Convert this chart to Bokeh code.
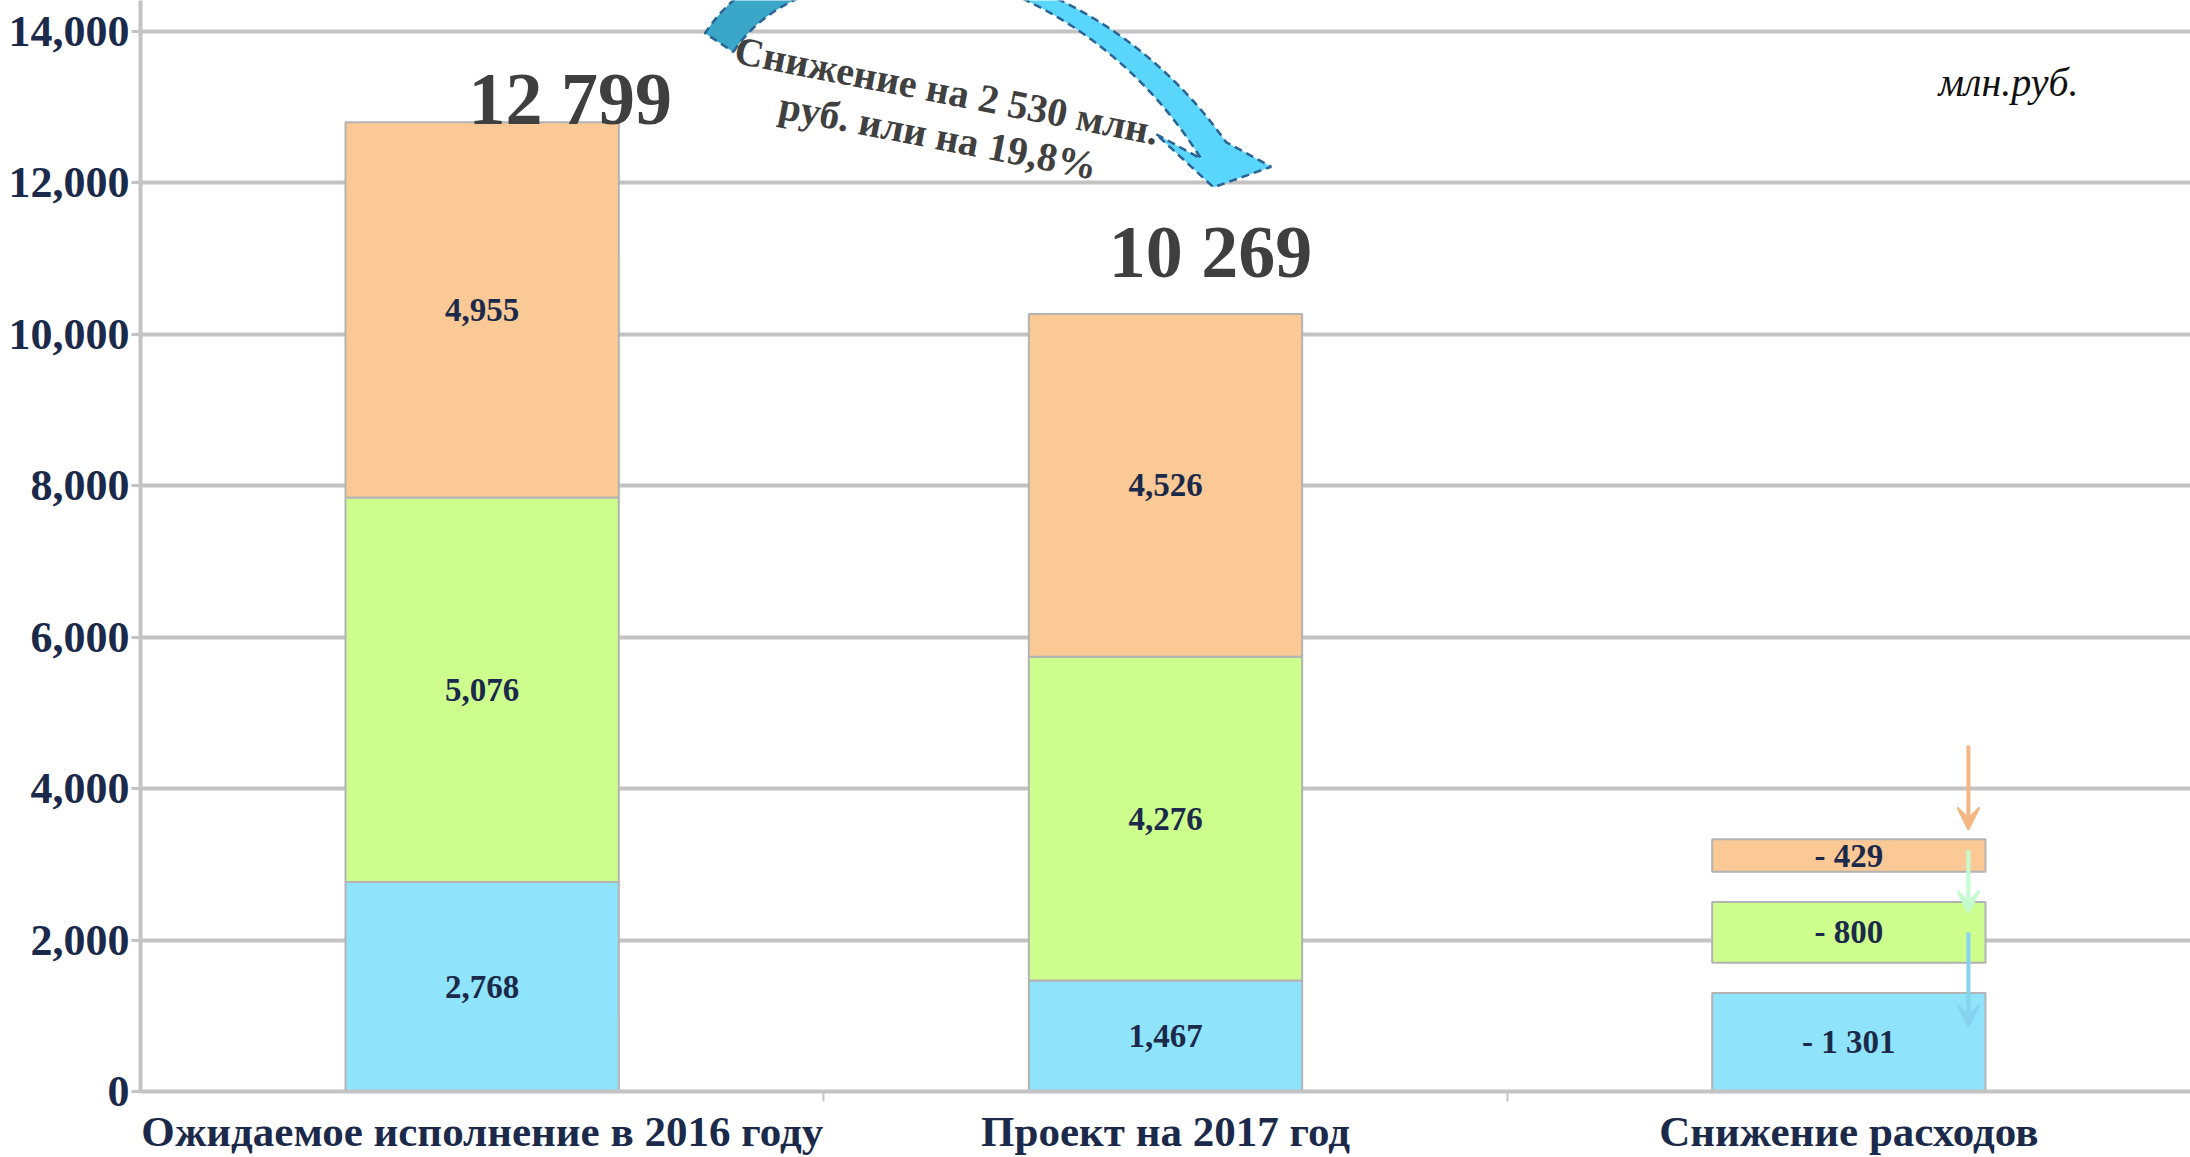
import numpy as np
from bokeh.plotting import figure
from bokeh.models import Range1d, FixedTicker, NumeralTickFormatter, Arrow, VeeHead, ColumnDataSource
from bokeh.embed import file_html
from bokeh.resources import INLINE
from bokeh.core.properties import value

# ---------------- data ----------------
categories = ["Ожидаемое исполнение в 2016 году", "Проект на 2017 год", "Снижение расходов"]
series = ["blue", "green", "orange"]
values_2016 = [2768, 5076, 4955]
values_2017 = [1467, 4276, 4526]
y_ticks = [0, 2000, 4000, 6000, 8000, 10000, 12000, 14000]
unit_label = "млн.руб."
note_lines = ["Снижение на 2 530 млн.", "руб. или на 19,8%"]

colors = {"blue": "#8fe3fa", "green": "#cdfd8c", "orange": "#fbc995"}
arrow_colors = {"blue": "#86d3ef", "green": "#c4fbd0", "orange": "#f4b682"}

reductions = [a - b for a, b in zip(values_2016, values_2017)]
totals = [sum(values_2016), sum(values_2017)]

# ---------------- layout constants ----------------
W, H = 2190, 1157
LEFT, BOTTOM = 140, 63
X_END, Y_END = 3.0, 14408
BAR_W = 0.4
GAP = 400
FONT = "Liberation Serif"
NAVY = "#1b2a4a"
GRID = "#c3c3c3"

frame_w = W - LEFT
frame_h = H - BOTTOM
XPX = frame_w / X_END
YPX = frame_h / Y_END


def to_px(xd, yd):
    return xd * XPX, (Y_END - yd) * YPX


def to_data(px, py):
    return np.asarray(px) / XPX, Y_END - np.asarray(py) / YPX


p = figure(width=W, height=H, x_range=Range1d(0, X_END), y_range=Range1d(0, Y_END),
           output_backend="svg", toolbar_location=None,
           min_border_left=LEFT, min_border_right=0, min_border_top=0, min_border_bottom=BOTTOM)
p.background_fill_color = "white"
p.border_fill_color = "white"
p.outline_line_color = None

# ---------------- stacked bars ----------------
bx, bb, bt, bc, lx, ly, lt = [], [], [], [], [], [], []
for i, vals in enumerate([values_2016, values_2017]):
    base = 0
    for s, v in zip(series, vals):
        bx.append(i + 0.5); bb.append(base); bt.append(base + v); bc.append(colors[s])
        lx.append(i + 0.5); ly.append(base + v / 2); lt.append(f"{v:,}")
        base += v

# floating reduction bars
rx, rb, rt, rc, rlt, rly = [], [], [], [], [], []
base = 0
for s, r in zip(series, reductions):
    rx.append(2.5); rb.append(base); rt.append(base + r); rc.append(colors[s])
    rly.append(base + r / 2); rlt.append("- " + f"{r:,}".replace(",", " "))
    base += r + GAP

src = ColumnDataSource(dict(x=bx + rx, bottom=bb + rb, top=bt + rt, color=bc + rc))
p.vbar(x="x", width=BAR_W, bottom="bottom", top="top", fill_color="color",
       line_color="#b3b3b3", line_width=2, source=src)

p.text(x=lx + rx, y=ly + rly, text=lt + rlt, text_font=value(FONT), text_font_style="bold",
       text_font_size="33px", text_align="center", text_baseline="middle", text_color=NAVY)

# totals
p.text(x=[0.5], y=[totals[0]], text=[f"{totals[0]:,}".replace(",", " ")], x_offset=88, y_offset=-23,
       text_font=value(FONT), text_font_style="bold", text_font_size="74px",
       text_align="center", text_baseline="alphabetic", text_color="#3f3f3f")
p.text(x=[1.5], y=[totals[1]], text=[f"{totals[1]:,}".replace(",", " ")], x_offset=45, y_offset=-62,
       text_font=value(FONT), text_font_style="bold", text_font_size="74px",
       text_align="center", text_baseline="alphabetic", text_color="#3f3f3f")

# small arrows over the reduction column
ax = 2.5 + BAR_W / 2 - 0.025
o_bot, o_top = rb[2], rt[2]
g_bot, g_top = rb[1], rt[1]
b_top = rt[0]
arrow_specs = [
    ("orange", o_top + 1240, o_top + 130),
    ("green", (o_bot + o_top) / 2 + 70, g_top - 140),
    ("blue", (g_bot + g_top) / 2, b_top - 445),
]
for s, y0, y1 in arrow_specs:
    c = arrow_colors[s]
    p.add_layout(Arrow(end=VeeHead(size=22, line_color=c, fill_color=c, line_width=2),
                       x_start=ax, y_start=y0, x_end=ax, y_end=y1,
                       line_color=c, line_width=4))

# big curved arrow (decoration) anchored to the two totals
a0 = np.array(to_px(0.5, totals[0]))
a1 = np.array(to_px(1.5, totals[1]))
P0 = a0 + np.array([237, -80])
P1 = a0 + np.array([325, -213])
P2 = a1 + np.array([-90, -372])
P3 = a1 + np.array([48, -164])
t = np.linspace(0, 1, 160)[:, None]
B = (1 - t) ** 3 * P0 + 3 * (1 - t) ** 2 * t * P1 + 3 * (1 - t) * t ** 2 * P2 + t ** 3 * P3
dB = 3 * (1 - t) ** 2 * (P1 - P0) + 6 * (1 - t) * t * (P2 - P1) + 3 * t ** 2 * (P3 - P2)
tang = dB / np.linalg.norm(dB, axis=1, keepdims=True)
norm = np.column_stack([-tang[:, 1], tang[:, 0]])
half = np.where(t < 0.5, 17.0, 6.0 + 9.0 * np.clip((t - 0.6) / 0.4, 0, 1))
L = B + norm * half
R = B - norm * half
base_dir = np.array([0.962, 0.274])
headL = P3 - base_dir * 60
headR = P3 + base_dir * 60
tip = P3 + np.array([0.0, 37.0])
split = 80
poly1 = np.vstack([L[:split + 1], R[:split + 1][::-1]])
xs1, ys1 = to_data(poly1[:, 0], poly1[:, 1])
p.patch(xs1, ys1, fill_color="#3aa6c8", line_color="#2a6496", line_width=2.5, line_dash="8 5")
poly2 = np.vstack([L[split:], [headL, tip, headR], R[split:][::-1]])
xs2, ys2 = to_data(poly2[:, 0], poly2[:, 1])
p.patch(xs2, ys2, fill_color="#5ad5fc", line_color="#2a6496", line_width=2.5, line_dash="8 5")

# rotated note
theta = np.deg2rad(11)
c_px = np.array([802, 113])
offs = 23 * np.array([np.sin(theta), -np.cos(theta)])
centers = [c_px + offs, c_px - offs]
nx, ny = to_data([c[0] for c in centers], [c[1] for c in centers])
p.text(x=list(nx), y=list(ny), text=note_lines, angle=-theta, text_font=value(FONT),
       text_font_style="bold", text_font_size="40px", text_align="center",
       text_baseline="middle", text_color="#404040")

# unit label
ux, uy = to_data(1868, 82)
p.text(x=[float(ux)], y=[float(uy)], text=[unit_label], text_font=value(FONT),
       text_font_style="italic", text_font_size="40px", text_align="center",
       text_baseline="middle", text_color="#111111")

# ---------------- axes ----------------
yt = FixedTicker(ticks=y_ticks, minor_ticks=[])
p.yaxis.ticker = yt
p.ygrid.ticker = yt
p.yaxis.formatter = NumeralTickFormatter(format="0,0")
p.yaxis.major_label_text_font = FONT
p.yaxis.major_label_text_font_style = "bold"
p.yaxis.major_label_text_font_size = "44px"
p.yaxis.major_label_text_color = NAVY
p.yaxis.major_label_standoff = 2
p.yaxis.major_tick_out = 9
p.yaxis.major_tick_in = 0
p.yaxis.major_tick_line_color = GRID
p.yaxis.major_tick_line_width = 3
p.yaxis.minor_tick_line_color = None
p.yaxis.axis_line_color = GRID
p.yaxis.axis_line_width = 4
p.ygrid.grid_line_color = GRID
p.ygrid.grid_line_width = 4

xt = FixedTicker(ticks=[i + 0.5 for i in range(len(categories))], minor_ticks=[1, 2])
p.xaxis.ticker = xt
p.xaxis.major_label_overrides = {i + 0.5: c for i, c in enumerate(categories)}
p.xaxis.major_label_text_font = FONT
p.xaxis.major_label_text_font_style = "bold"
p.xaxis.major_label_text_font_size = "43px"
p.xaxis.major_label_text_color = NAVY
p.xaxis.major_label_standoff = 6
p.xaxis.major_tick_out = 0
p.xaxis.major_tick_in = 0
p.xaxis.major_tick_line_color = None
p.xaxis.minor_tick_out = 10
p.xaxis.minor_tick_in = 0
p.xaxis.minor_tick_line_color = GRID
p.xaxis.minor_tick_line_width = 2
p.xaxis.axis_line_color = GRID
p.xaxis.axis_line_width = 4
p.xgrid.visible = False

open("out.html", "w").write(file_html(p, INLINE))
